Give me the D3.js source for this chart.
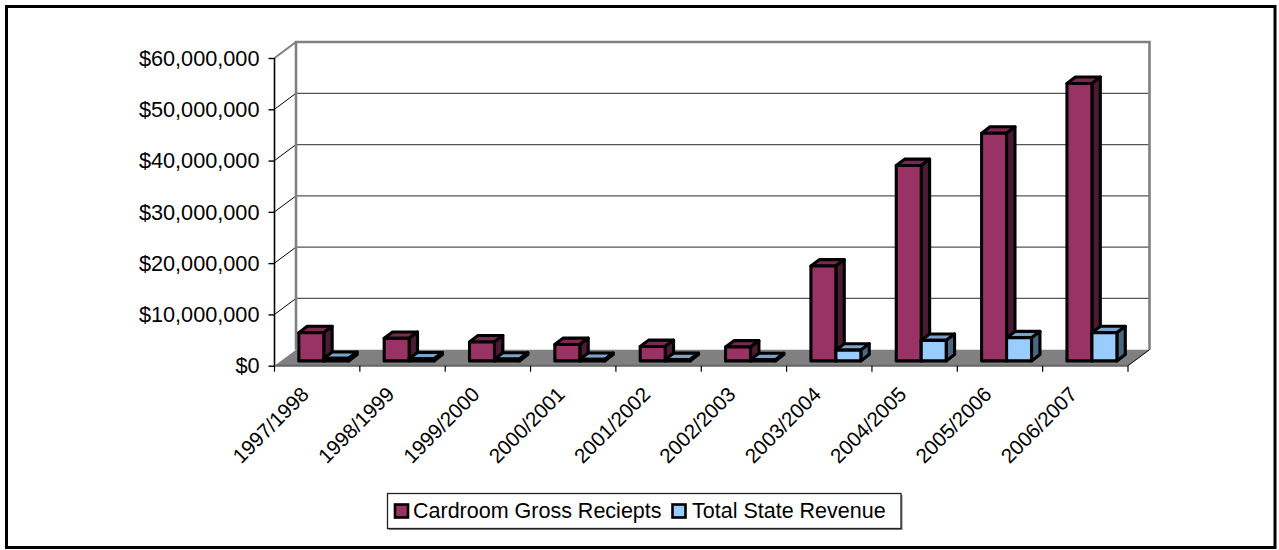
<!DOCTYPE html>
<html><head><meta charset="utf-8">
<script src="https://cdn.jsdelivr.net/npm/d3@7"></script>
<style>html,body{margin:0;padding:0;background:#fff}svg{display:block}text{font-family:"Liberation Sans",Arial,sans-serif;fill:#000}</style>
</head><body><svg id="c" width="1279" height="550"></svg>
<script>
const categories=["1997/1998","1998/1999","1999/2000","2000/2001","2001/2002","2002/2003","2003/2004","2004/2005","2005/2006","2006/2007"];
const grossReceipts=[5500000,4400000,3700000,3200000,2800000,2700000,18500000,38100000,44400000,54100000];
const stateRevenue=[500000,400000,350000,300000,260000,250000,2100000,4000000,4500000,5500000];
const tickValues=[0,10000000,20000000,30000000,40000000,50000000,60000000];
const seriesNames=["Cardroom Gross Reciepts","Total State Revenue"];

const svg=d3.select("#c");
const x=d3.scaleBand().domain(categories).range([274.5,1128]);
const y=d3.scaleLinear().domain([0,60000000]).range([365.7,58]);
const wd=[21.5,-16];
const pts=a=>a.map(p=>p.join(",")).join(" ");
const FS=21.7;

svg.append("rect").attr("x",6.5).attr("y",6.5).attr("width",1268.5).attr("height",541).attr("fill","#fff").attr("stroke","#000").attr("stroke-width",3);

const x0=x.range()[0],x1=x.range()[1],y0=y(0),yT=y(60000000);
svg.append("polygon").attr("points",pts([[x0,y0],[x0+wd[0],y0+wd[1]],[x1+wd[0],y0+wd[1]],[x1,y0]])).attr("fill","#808080");
tickValues.slice(1,-1).forEach(t=>{
  svg.append("line").attr("x1",x0+wd[0]).attr("x2",x1+wd[0]).attr("y1",y(t)+wd[1]).attr("y2",y(t)+wd[1]).attr("stroke","#555").attr("stroke-width",1.2);
  svg.append("line").attr("x1",x0).attr("x2",x0+wd[0]).attr("y1",y(t)).attr("y2",y(t)+wd[1]).attr("stroke","#000").attr("stroke-width",1);
});
svg.append("polyline").attr("points",pts([[x0+wd[0],y0+wd[1]],[x0+wd[0],yT+wd[1]],[x1+wd[0],yT+wd[1]],[x1+wd[0],y0+wd[1]]])).attr("fill","none").attr("stroke","#808080").attr("stroke-width",2.6);
svg.append("line").attr("x1",x0).attr("y1",yT).attr("x2",x0+wd[0]).attr("y2",yT+wd[1]).attr("stroke","#808080").attr("stroke-width",2);
svg.append("line").attr("x1",x1).attr("y1",y0).attr("x2",x1+wd[0]).attr("y2",y0+wd[1]).attr("stroke","#000").attr("stroke-width",1);

const off=[6.6,-4.8],bd=[8.4,-6.4];
const barW=x.bandwidth()*0.2925;
function bar(left,v,c){
  const b=y(0)+off[1],t=y(v)+off[1],l=left,r=left+barW;
  const g=svg.append("g").attr("stroke","#000").attr("stroke-width",3.1).attr("stroke-linejoin","round");
  g.append("polygon").attr("points",pts([[l,t],[l+bd[0],t+bd[1]],[r+bd[0],t+bd[1]],[r,t]])).attr("fill",c[1]);
  g.append("polygon").attr("points",pts([[r,t],[r+bd[0],t+bd[1]],[r+bd[0],b+bd[1]],[r,b]])).attr("fill",c[2]);
  g.append("rect").attr("x",l).attr("y",t).attr("width",barW).attr("height",b-t).attr("fill",c[0]);
}
const c1=["#993366","#7a2952","#4d1a33"],c2=["#99ccff","#7aa3cc","#4d6680"];
categories.forEach((k,i)=>{
  const mid=x(k)+x.bandwidth()/2+off[0];
  bar(mid-barW,grossReceipts[i],c1);
  bar(mid,stateRevenue[i],c2);
});

const yAxis=svg.append("g").attr("transform",`translate(${x0},0)`).call(d3.axisLeft(y).tickValues(tickValues).tickSize(6).tickFormat(d3.format("$,.0f")));
yAxis.attr("font-family",null).attr("font-size",null);
yAxis.select(".domain").attr("stroke-width",1.6).attr("d",`M${0},${y0}V${yT}`);
yAxis.selectAll("line").attr("stroke-width",1.4);
yAxis.selectAll("text").attr("font-size",FS).attr("x",-15).attr("dy","0.33em");

const gx=svg.append("g").attr("transform",`translate(0,${y0})`);
gx.append("line").attr("x1",x0).attr("x2",x1).attr("stroke","#666").attr("stroke-width",2);
d3.range(categories.length+1).forEach(i=>{
  const px=x0+i*x.step();
  gx.append("line").attr("x1",px).attr("x2",px).attr("y1",0).attr("y2",6).attr("stroke","#000").attr("stroke-width",1.2);
});
categories.forEach(k=>{
  const cx=x(k)+x.bandwidth()/2-7;
  gx.append("text").text(k).attr("font-size",20.6).attr("text-anchor","end")
    .attr("transform",`translate(${cx},30) rotate(-45)`);
});

const lg=svg.append("g");
lg.append("rect").attr("x",388.5).attr("y",495).attr("width",514).attr("height",35).attr("fill","#808080");
lg.append("rect").attr("x",387.5).attr("y",493.5).attr("width",513.5).attr("height",35).attr("fill","#fff").attr("stroke","#222").attr("stroke-width",1.3);
[[395,c1[0],413],[672.5,c2[0],692]].forEach((d,i)=>{
  lg.append("rect").attr("x",d[0]).attr("y",504.5).attr("width",13).attr("height",13).attr("fill",d[1]).attr("stroke","#000").attr("stroke-width",2.6);
  lg.append("text").text(seriesNames[i]).attr("x",d[2]).attr("y",518).attr("font-size",21.5);
});
</script></body></html>
